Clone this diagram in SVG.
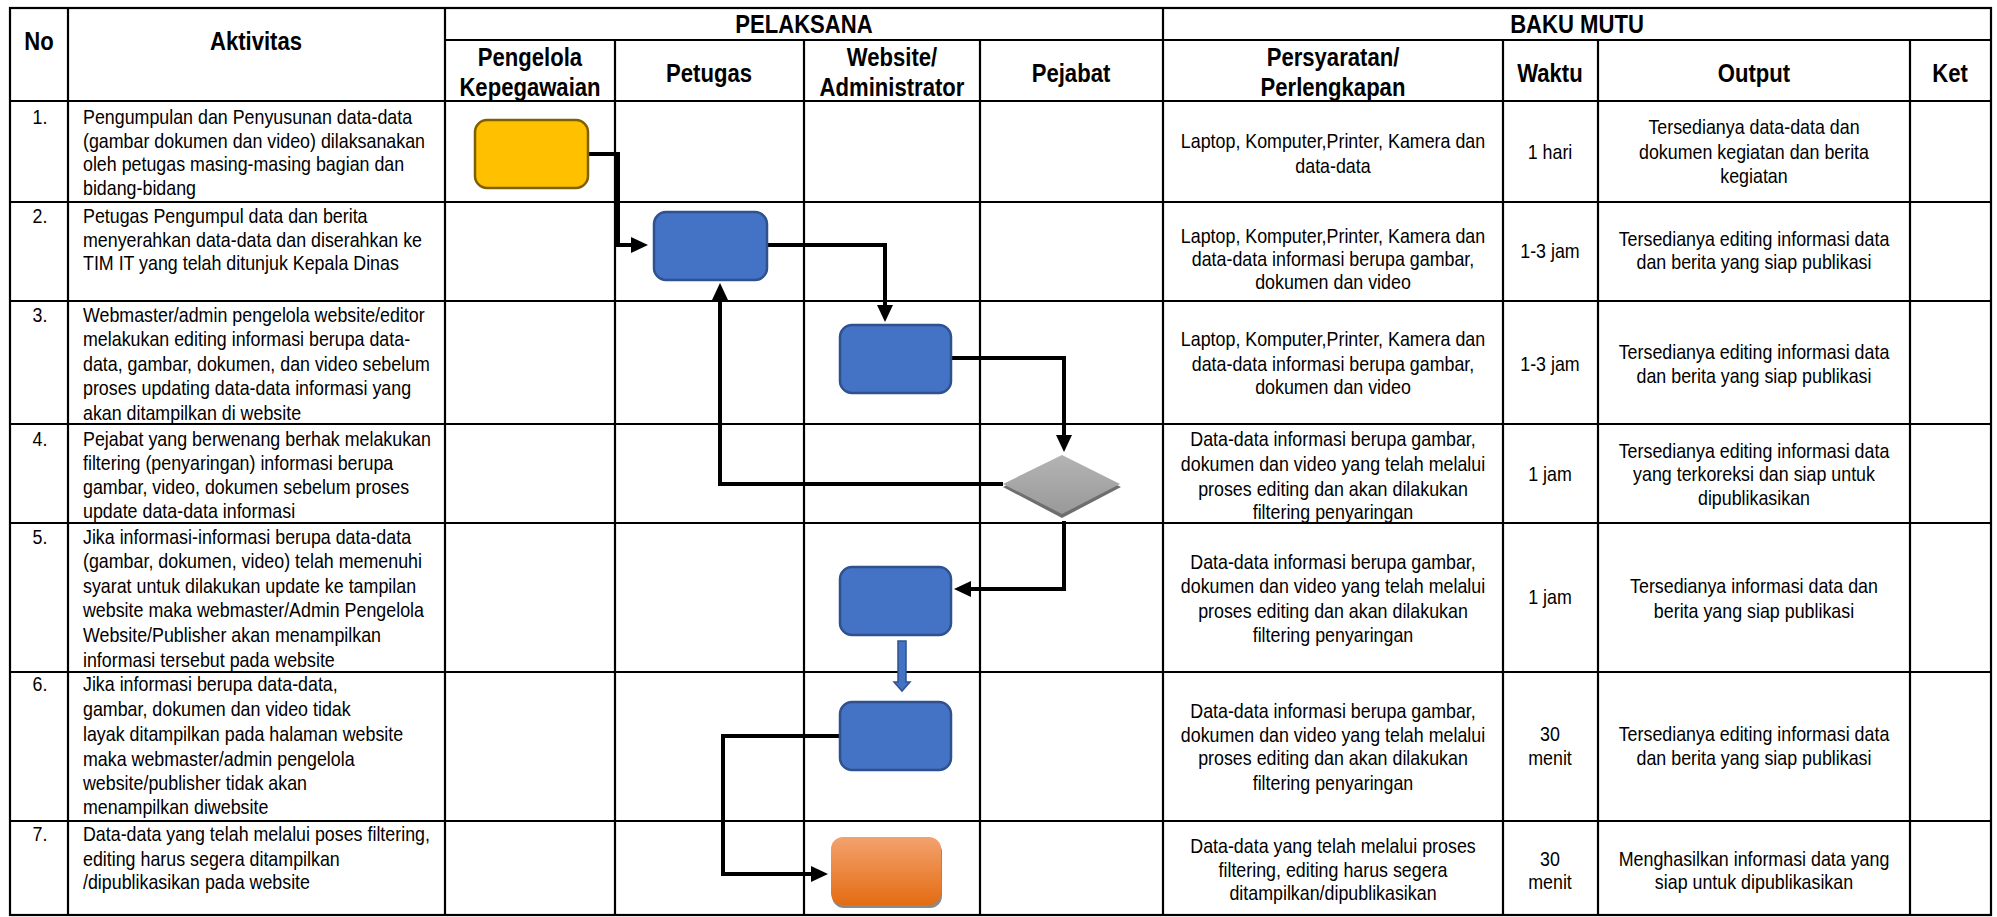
<svg xmlns="http://www.w3.org/2000/svg" width="1997" height="917" viewBox="0 0 1997 917">
<style>
text{font-family:'Liberation Sans',Arial,sans-serif;fill:#000}
.h{font-weight:bold;font-size:26px;text-anchor:middle}
.t{font-size:21px}
.c{text-anchor:middle}
.g{stroke:#000;stroke-width:2.2;fill:none}
.k{stroke:#000;stroke-width:4;fill:none}
.blue{fill:#4472C4;stroke:#2F528F;stroke-width:2.5}
</style>
<defs>
<marker id="ah" markerUnits="userSpaceOnUse" markerWidth="18" markerHeight="16" refX="10" refY="8" orient="auto">
<path d="M0,0 L17,8 L0,16 z" fill="#000"/>
</marker>
<linearGradient id="gd" x1="0" y1="0" x2="0" y2="1">
<stop offset="0" stop-color="#B4B4B4"/><stop offset="1" stop-color="#999"/>
</linearGradient>
<linearGradient id="go" x1="0" y1="0" x2="0" y2="1">
<stop offset="0" stop-color="#F3A26E"/><stop offset="1" stop-color="#E46C12"/>
</linearGradient>
</defs>
<rect width="1997" height="917" fill="#fff"/>
<g id="grid" class="g">
<rect x="10" y="8" width="1981" height="907"/>
<path d="M445,40 H1991 M10,101 H1991 M10,202 H1991 M10,301 H1991 M10,424 H1991 M10,523 H1991 M10,672 H1991 M10,821 H1991"/>
<path d="M68,8 V915 M445,8 V915 M1163,8 V915 M615,40 V915 M804,40 V915 M980,40 V915 M1503,40 V915 M1598,40 V915 M1910,40 V915"/>
</g>
<g id="header">
<text class="h" x="39" y="50" transform="matrix(0.85 0 0 1 5.85 0)">No</text>
<text class="h" x="256" y="50" transform="matrix(0.85 0 0 1 38.4 0)">Aktivitas</text>
<text class="h" x="804" y="33" transform="matrix(0.85 0 0 1 120.6 0)">PELAKSANA</text>
<text class="h" x="1577" y="33" transform="matrix(0.85 0 0 1 236.55 0)">BAKU MUTU</text>
<text class="h" x="530" y="66" transform="matrix(0.85 0 0 1 79.5 0)">Pengelola</text>
<text class="h" x="530" y="96" transform="matrix(0.85 0 0 1 79.5 0)">Kepegawaian</text>
<text class="h" x="709" y="82" transform="matrix(0.85 0 0 1 106.35 0)">Petugas</text>
<text class="h" x="892" y="66" transform="matrix(0.85 0 0 1 133.8 0)">Website/</text>
<text class="h" x="892" y="96" transform="matrix(0.85 0 0 1 133.8 0)">Administrator</text>
<text class="h" x="1071" y="82" transform="matrix(0.85 0 0 1 160.65 0)">Pejabat</text>
<text class="h" x="1333" y="66" transform="matrix(0.85 0 0 1 199.95 0)">Persyaratan/</text>
<text class="h" x="1333" y="96" transform="matrix(0.85 0 0 1 199.95 0)">Perlengkapan</text>
<text class="h" x="1550" y="82" transform="matrix(0.85 0 0 1 232.5 0)">Waktu</text>
<text class="h" x="1754" y="82" transform="matrix(0.85 0 0 1 263.1 0)">Output</text>
<text class="h" x="1950" y="82" transform="matrix(0.85 0 0 1 292.5 0)">Ket</text>
</g>
<g id="col-no" class="t c" transform="matrix(0.85 0 0 1 6 0)">
<text x="40" y="124">1.</text>
<text x="40" y="223">2.</text>
<text x="40" y="322">3.</text>
<text x="40" y="446">4.</text>
<text x="40" y="544">5.</text>
<text x="40" y="691">6.</text>
<text x="40" y="841">7.</text>
</g>
<g id="col-aktivitas" class="t" transform="matrix(0.85 0 0 1 12.45 0)">
<text x="83"><tspan x="83" y="124">Pengumpulan dan Penyusunan data-data</tspan><tspan x="83" y="148">(gambar dokumen dan video) dilaksanakan</tspan><tspan x="83" y="171">oleh petugas masing-masing bagian dan</tspan><tspan x="83" y="195">bidang-bidang</tspan></text>
<text x="83"><tspan x="83" y="223">Petugas Pengumpul data dan berita</tspan><tspan x="83" y="247">menyerahkan data-data dan diserahkan ke</tspan><tspan x="83" y="270">TIM IT yang telah ditunjuk Kepala Dinas</tspan></text>
<text x="83"><tspan x="83" y="322">Webmaster/admin pengelola website/editor</tspan><tspan x="83" y="346">melakukan editing informasi berupa data-</tspan><tspan x="83" y="371">data, gambar, dokumen, dan video sebelum</tspan><tspan x="83" y="395">proses updating data-data informasi yang</tspan><tspan x="83" y="420">akan ditampilkan di website</tspan></text>
<text x="83"><tspan x="83" y="446">Pejabat yang berwenang berhak melakukan</tspan><tspan x="83" y="470">filtering (penyaringan) informasi berupa</tspan><tspan x="83" y="494">gambar, video, dokumen sebelum proses</tspan><tspan x="83" y="518">update data-data informasi</tspan></text>
<text x="83"><tspan x="83" y="544">Jika informasi-informasi berupa data-data</tspan><tspan x="83" y="568">(gambar, dokumen, video) telah memenuhi</tspan><tspan x="83" y="593">syarat untuk dilakukan update ke tampilan</tspan><tspan x="83" y="617">website maka webmaster/Admin Pengelola</tspan><tspan x="83" y="642">Website/Publisher akan menampilkan</tspan><tspan x="83" y="667">informasi tersebut pada website</tspan></text>
<text x="83"><tspan x="83" y="691">Jika informasi berupa data-data,</tspan><tspan x="83" y="716">gambar, dokumen dan video tidak</tspan><tspan x="83" y="741">layak ditampilkan pada halaman website</tspan><tspan x="83" y="766">maka webmaster/admin pengelola</tspan><tspan x="83" y="790">website/publisher tidak akan</tspan><tspan x="83" y="814">menampilkan diwebsite</tspan></text>
<text x="83"><tspan x="83" y="841">Data-data yang telah melalui poses filtering,</tspan><tspan x="83" y="866">editing harus segera ditampilkan</tspan><tspan x="83" y="889">/dipublikasikan pada website</tspan></text>
</g>
<g id="col-persyaratan" class="t c" transform="matrix(0.85 0 0 1 199.95 0)">
<text><tspan x="1333" y="148">Laptop, Komputer,Printer, Kamera dan</tspan><tspan x="1333" y="173">data-data</tspan></text>
<text><tspan x="1333" y="243">Laptop, Komputer,Printer, Kamera dan</tspan><tspan x="1333" y="266">data-data informasi berupa gambar,</tspan><tspan x="1333" y="289">dokumen dan video</tspan></text>
<text><tspan x="1333" y="346">Laptop, Komputer,Printer, Kamera dan</tspan><tspan x="1333" y="371">data-data informasi berupa gambar,</tspan><tspan x="1333" y="394">dokumen dan video</tspan></text>
<text><tspan x="1333" y="446">Data-data informasi berupa gambar,</tspan><tspan x="1333" y="471">dokumen dan video yang telah melalui</tspan><tspan x="1333" y="496">proses editing dan akan dilakukan</tspan><tspan x="1333" y="519">filtering penyaringan</tspan></text>
<text><tspan x="1333" y="569">Data-data informasi berupa gambar,</tspan><tspan x="1333" y="593">dokumen dan video yang telah melalui</tspan><tspan x="1333" y="618">proses editing dan akan dilakukan</tspan><tspan x="1333" y="642">filtering penyaringan</tspan></text>
<text><tspan x="1333" y="718">Data-data informasi berupa gambar,</tspan><tspan x="1333" y="742">dokumen dan video yang telah melalui</tspan><tspan x="1333" y="765">proses editing dan akan dilakukan</tspan><tspan x="1333" y="790">filtering penyaringan</tspan></text>
<text><tspan x="1333" y="853">Data-data yang telah melalui proses</tspan><tspan x="1333" y="877">filtering, editing harus segera</tspan><tspan x="1333" y="900">ditampilkan/dipublikasikan</tspan></text>
</g>
<g id="col-waktu" class="t c" transform="matrix(0.85 0 0 1 232.5 0)">
<text x="1550" y="159">1 hari</text>
<text x="1550" y="258">1-3 jam</text>
<text x="1550" y="371">1-3 jam</text>
<text x="1550" y="481">1 jam</text>
<text x="1550" y="604">1 jam</text>
<text><tspan x="1550" y="741">30</tspan><tspan x="1550" y="765">menit</tspan></text>
<text><tspan x="1550" y="866">30</tspan><tspan x="1550" y="889">menit</tspan></text>
</g>
<g id="col-output" class="t c" transform="matrix(0.85 0 0 1 263.1 0)">
<text><tspan x="1754" y="134">Tersedianya data-data dan</tspan><tspan x="1754" y="159">dokumen kegiatan dan berita</tspan><tspan x="1754" y="183">kegiatan</tspan></text>
<text><tspan x="1754" y="246">Tersedianya editing informasi data</tspan><tspan x="1754" y="269">dan berita yang siap publikasi</tspan></text>
<text><tspan x="1754" y="359">Tersedianya editing informasi data</tspan><tspan x="1754" y="383">dan berita yang siap publikasi</tspan></text>
<text><tspan x="1754" y="458">Tersedianya editing informasi data</tspan><tspan x="1754" y="481">yang terkoreksi dan siap untuk</tspan><tspan x="1754" y="505">dipublikasikan</tspan></text>
<text><tspan x="1754" y="593">Tersedianya informasi data dan</tspan><tspan x="1754" y="618">berita yang siap publikasi</tspan></text>
<text><tspan x="1754" y="741">Tersedianya editing informasi data</tspan><tspan x="1754" y="765">dan berita yang siap publikasi</tspan></text>
<text><tspan x="1754" y="866">Menghasilkan informasi data yang</tspan><tspan x="1754" y="889">siap untuk dipublikasikan</tspan></text>
</g>
<g id="connectors">
<path class="k" d="M588,154 H618 V245 H641" marker-end="url(#ah)"/>
<path class="k" d="M767,245 H885 V315" marker-end="url(#ah)"/>
<path class="k" d="M951,358 H1064 V445" marker-end="url(#ah)"/>
<path class="k" d="M1003,484 H720 V290" marker-end="url(#ah)"/>
<path class="k" d="M1064,521 V589 H961" marker-end="url(#ah)"/>
<path class="k" d="M840,736 H723 V874 H821" marker-end="url(#ah)"/>
<path d="M898,641 H906 V682 H910 L902,691 L894,682 H898 Z" fill="#4472C4" stroke="#2F528F" stroke-width="1.5"/>
</g>
<g id="n1"><rect x="475" y="120" width="113" height="68" rx="12" fill="#FFC000" stroke="#7F6000" stroke-width="2.5"/></g>
<g id="n2"><rect class="blue" x="654" y="212" width="113" height="68" rx="12"/></g>
<g id="n3"><rect class="blue" x="840" y="325" width="111" height="68" rx="12"/></g>
<g id="n4">
<path d="M1003,487 L1062,458 L1121,487 L1062,518 Z" fill="#6E6E6E"/>
<path d="M1003,484 L1062,455 L1120,484 L1062,514 Z" fill="url(#gd)"/>
</g>
<g id="n5"><rect class="blue" x="840" y="567" width="111" height="68" rx="12"/></g>
<g id="n6"><rect class="blue" x="840" y="702" width="111" height="68" rx="12"/></g>
<g id="n7">
<rect x="832" y="840" width="110" height="68" rx="12" fill="#8a8a8a"/>
<rect x="831" y="837" width="110" height="68" rx="12" fill="url(#go)"/>
</g>
</svg>
